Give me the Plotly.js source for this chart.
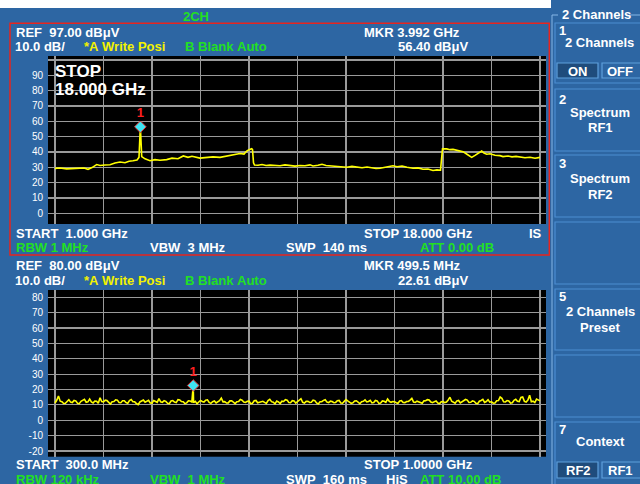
<!DOCTYPE html>
<html><head><meta charset="utf-8">
<script src="https://cdn.plot.ly/plotly-3.0.1.min.js"></script>
<style>html,body{margin:0;padding:0;background:#2d66a3;overflow:hidden}#chart{width:640px;height:484px}</style>
</head><body><div id="chart"></div>
<script>
// ---- Channel RF1 (1 GHz .. 18 GHz) ----
const rf1FreqGHz = [1.000,1.175,1.410,1.596,1.876,2.017,2.157,2.297,2.462,2.577,2.753,2.928,3.103,3.278,3.454,3.594,3.734,3.874,3.944,3.992,4.040,4.155,4.330,4.505,4.680,4.915,5.101,5.311,5.497,5.662,5.802,6.082,6.258,6.538,6.783,6.959,7.134,7.309,7.485,7.625,7.719,7.800,7.895,7.923,7.958,7.993,8.116,8.256,8.396,8.536,8.711,8.887,9.062,9.237,9.412,9.588,9.763,9.938,10.043,10.219,10.359,10.499,10.639,10.814,10.990,11.225,11.410,11.586,11.761,11.936,12.111,12.252,12.392,12.567,12.742,12.847,12.988,13.163,13.338,13.548,13.724,13.899,14.074,14.249,14.390,14.512,14.547,14.583,14.730,14.845,14.950,15.091,15.196,15.301,15.441,15.606,15.722,15.827,15.957,16.037,16.132,16.247,16.423,16.598,16.703,16.879,17.019,17.159,17.299,17.474,17.650,17.825,18.000];
const rf1LevelDbuv = [29.3,29.5,29.0,29.3,29.7,29.5,28.7,29.8,31.8,31.2,31.5,31.7,32.8,33.5,33.0,34.0,34.3,34.8,36.5,56.4,37.0,35.5,34.3,35.0,34.6,35.0,36.0,35.6,37.4,36.5,37.2,36.0,36.3,36.8,36.5,37.2,37.9,38.3,39.0,38.6,40.6,41.5,42.1,41.5,33.0,31.5,31.3,31.8,31.2,31.4,31.0,31.0,31.6,31.1,30.8,31.2,31.0,31.6,30.9,31.3,32.0,31.2,31.0,30.7,30.4,30.0,30.6,30.1,29.7,30.2,29.8,29.2,29.4,29.9,30.6,31.0,30.4,30.8,30.0,29.4,29.6,28.7,28.9,27.9,28.3,28.1,35.0,42.1,42.0,41.5,41.7,41.2,40.8,40.2,38.5,36.5,37.8,39.0,40.6,39.3,38.5,38.8,37.9,37.6,37.0,37.4,36.8,37.1,36.5,36.2,36.6,35.9,36.5];
const rf1MarkerGHz = [3.992];
const rf1MarkerDbuv = [56.40];
const rf1GridGHz = [1,2.7,4.4,6.1,7.8,9.5,11.2,12.9,14.6,16.3,18];
const rf1TickVals = [0,10,20,30,40,50,60,70,80,90,100];
const rf1TickText = ['0','10','20','30','40','50','60','70','80','90',''];

// ---- Channel RF2 (300 MHz .. 1 GHz) ----
const rf2FreqMHz = [
 300,302.5,305,307.5,310,312.5,315,317.5,320,322.5,325,327.5,330,332.5,335,337.5,340,342.5,345,347.5,
 350,352.5,355,357.5,360,362.5,365,367.5,370,372.5,375,377.5,380,382.5,385,387.5,390,392.5,395,397.5,
 400,402.5,405,407.5,410,412.5,415,417.5,420,422.5,425,427.5,430,432.5,435,437.5,440,442.5,445,447.5,
 450,452.5,455,457.5,460,462.5,465,467.5,470,472.5,475,477.5,480,482.5,485,487.5,490,492.5,495,497.5,
 499.5,
 500,502.5,505,507.5,510,512.5,515,517.5,520,522.5,525,527.5,530,532.5,535,537.5,540,542.5,545,547.5,
 550,552.5,555,557.5,560,562.5,565,567.5,570,572.5,575,577.5,580,582.5,585,587.5,590,592.5,595,597.5,
 600,602.5,605,607.5,610,612.5,615,617.5,620,622.5,625,627.5,630,632.5,635,637.5,640,642.5,645,647.5,
 650,652.5,655,657.5,660,662.5,665,667.5,670,672.5,675,677.5,680,682.5,685,687.5,690,692.5,695,697.5,
 700,702.5,705,707.5,710,712.5,715,717.5,720,722.5,725,727.5,730,732.5,735,737.5,740,742.5,745,747.5,
 750,752.5,755,757.5,760,762.5,765,767.5,770,772.5,775,777.5,780,782.5,785,787.5,790,792.5,795,797.5,
 800,802.5,805,807.5,810,812.5,815,817.5,820,822.5,825,827.5,830,832.5,835,837.5,840,842.5,845,847.5,
 850,852.5,855,857.5,860,862.5,865,867.5,870,872.5,875,877.5,880,882.5,885,887.5,890,892.5,895,897.5,
 900,902.5,905,907.5,910,912.5,915,917.5,920,922.5,925,927.5,930,932.5,935,937.5,940,942.5,945,947.5,
 950,952.5,955,957.5,960,962.5,965,967.5,970,972.5,975,977.5,980,982.5,985,987.5,990,992.5,995,997.5,
 1000];
const rf2LevelDbuv = [
 11.2,13.0,15.8,12.4,12.1,10.9,11.0,12.6,13.4,11.8,11.5,12.9,12.6,11.1,10.8,12.3,12.9,13.6,11.7,12.0,
 13.8,11.9,11.3,12.5,12.4,11.0,14.6,12.2,11.9,13.1,12.8,11.4,10.6,12.0,12.2,13.3,13.1,11.6,11.4,12.7,
 12.7,11.5,11.1,12.8,13.5,12.1,12.0,10.9,10.2,11.9,12.6,13.2,11.8,12.4,13.0,11.3,11.2,12.9,12.4,11.7,
 14.1,12.0,11.6,12.7,12.3,11.1,10.9,12.5,12.8,11.8,11.5,13.4,13.2,12.2,12.0,10.8,11.3,12.6,12.5,11.9,
 22.61,
 11.4,12.3,10.7,11.9,12.9,12.2,11.8,13.0,13.3,11.6,11.0,12.1,12.5,11.3,11.9,12.8,14.4,12.0,12.1,11.2,
 11.3,12.6,12.7,11.5,10.8,12.0,12.2,13.5,13.0,11.9,11.6,12.3,12.4,10.9,11.1,12.7,12.9,11.4,11.7,12.2,
 12.3,11.6,11.0,12.8,13.6,12.1,11.8,10.7,12.5,11.9,10.9,12.4,12.2,13.4,13.1,11.5,11.4,12.8,12.6,11.1,
 11.9,13.2,14.0,11.7,11.2,12.3,12.4,11.6,11.7,13.1,12.8,11.3,10.6,12.0,12.1,12.9,13.3,11.8,11.5,12.4,
 12.2,11.4,11.6,12.7,12.9,11.2,11.1,12.3,13.5,12.6,12.0,11.0,11.4,12.5,12.7,11.8,10.8,12.1,12.3,13.2,
 11.9,12.2,13.0,11.3,11.5,12.9,12.6,11.0,11.2,12.6,12.4,11.7,13.8,12.3,11.7,12.2,12.1,11.4,11.0,12.5,
 12.8,11.6,11.5,12.2,12.3,13.1,14.2,11.9,11.6,12.4,12.0,11.3,11.1,12.6,12.7,13.4,13.2,11.8,11.4,12.1,
 12.5,11.2,10.9,12.0,12.2,11.5,11.8,13.2,15.0,12.4,11.9,11.1,12.6,12.9,11.3,12.0,12.4,13.5,13.1,11.6,
 11.7,12.6,12.3,11.0,10.8,12.4,12.9,13.6,11.6,12.2,13.4,11.8,12.0,11.1,11.2,12.7,12.8,15.1,14.3,12.0,
 11.9,12.8,12.5,11.2,11.4,13.0,13.6,12.4,12.1,14.8,15.2,12.3,11.8,13.1,16.3,12.0,12.4,11.5,13.8,12.9,
 12.6];
const rf2MarkerMHz = [499.5];
const rf2MarkerDbuv = [22.61];
const rf2GridMHz = [300,370,440,510,580,650,720,790,860,930,1000];
const rf2TickVals = [-20,-10,0,10,20,30,40,50,60,70,80];
const rf2TickText = ['-20','-10','0','10','20','30','40','50','60','70','80'];

// ---- helpers (pixel -> paper) ----
const W = 640, H = 484;
const X = p => p / W;
const Y = p => 1 - p / H;
const NB = '\u00a0';
const WHITE = '#ffffff', GREEN = '#22e022', YELLOW = '#f2f200';
const FONT = 'Liberation Sans, Arial, sans-serif';

function txt(s, x, y, color, opts) {
  opts = opts || {};
  return {
    text: '<b>' + s.replace(/ /g, NB) + '</b>',
    xref: 'paper', yref: 'paper', x: X(x), y: Y(y),
    xanchor: opts.anchor || 'left', yanchor: 'middle',
    showarrow: false,
    font: {family: FONT, size: opts.size || 13, color: color}
  };
}

const traceStyle = {color: '#ffff00', width: 1.6};
const markerStyle = {symbol: 'diamond', size: 9, color: '#3ee4f2', line: {color: '#e03030', width: 1}};
const markerText = {family: FONT, size: 13, color: '#ff2020', weight: 'bold'};

const data = [
  {x: rf1FreqGHz, y: rf1LevelDbuv, xaxis: 'x', yaxis: 'y', mode: 'lines', line: traceStyle, hoverinfo: 'skip'},
  {x: rf1MarkerGHz, y: rf1MarkerDbuv, xaxis: 'x', yaxis: 'y', mode: 'markers+text', text: ['1'], textposition: 'top center',
   textfont: markerText, marker: markerStyle, cliponaxis: false},
  {x: rf2FreqMHz, y: rf2LevelDbuv, xaxis: 'x2', yaxis: 'y2', mode: 'lines', line: traceStyle, hoverinfo: 'skip'},
  {x: rf2MarkerMHz, y: rf2MarkerDbuv, xaxis: 'x2', yaxis: 'y2', mode: 'markers+text', text: ['1'], textposition: 'top center',
   textfont: markerText, marker: markerStyle, cliponaxis: false}
];

const gridCol = '#9a9a9a';
const xCommon = {showticklabels: false, ticks: '', showgrid: true, gridcolor: gridCol, gridwidth: 1.2, zeroline: false, showline: false, fixedrange: true};
const yCommon = {showgrid: true, gridcolor: gridCol, gridwidth: 1.2, zeroline: false, showline: false, ticks: '',
  tickfont: {family: FONT, size: 10, color: WHITE}, ticklabelstandoff: 4, fixedrange: true};

const rf1PxPerGHz = 485 / 17;
const rf2MHzPerPx = 700 / 485;

const layout = {
  width: W, height: H,
  margin: {l: 0, r: 0, t: 0, b: 0},
  paper_bgcolor: '#2d66a3', plot_bgcolor: '#000000',
  showlegend: false,
  xaxis: Object.assign({}, xCommon, {domain: [X(48), X(546)], anchor: 'y',
    range: [1 - 7 / rf1PxPerGHz, 18 + 6 / rf1PxPerGHz], tickmode: 'array', tickvals: rf1GridGHz}),
  yaxis: Object.assign({}, yCommon, {domain: [Y(224), Y(56)], anchor: 'x',
    range: [-6.98, 102.6], tickmode: 'array', tickvals: rf1TickVals, ticktext: rf1TickText}),
  xaxis2: Object.assign({}, xCommon, {domain: [X(48), X(546)], anchor: 'y2',
    range: [300 - 7 * rf2MHzPerPx, 1000 + 6 * rf2MHzPerPx], tickmode: 'array', tickvals: rf2GridMHz}),
  yaxis2: Object.assign({}, yCommon, {domain: [Y(456.7), Y(290)], anchor: 'x2',
    range: [-23.71, 84.75], tickmode: 'array', tickvals: rf2TickVals, ticktext: rf2TickText}),
  shapes: [],
  annotations: []
};

const S = layout.shapes, A = layout.annotations;
function rect(x0, y0, x1, y1, line, fill, lw) {
  S.push({type: 'rect', xref: 'paper', yref: 'paper', x0: X(x0), x1: X(x1), y0: Y(y1), y1: Y(y0),
    line: {color: line || 'rgba(0,0,0,0)', width: lw === undefined ? 1 : lw}, fillcolor: fill || 'rgba(0,0,0,0)', layer: 'above'});
}
function seg(x0, y0, x1, y1, color, lw) {
  S.push({type: 'line', xref: 'paper', yref: 'paper', x0: X(x0), x1: X(x1), y0: Y(y0), y1: Y(y1),
    line: {color: color, width: lw || 1}, layer: 'above'});
}

// white strip at the very top
rect(0, 0, 551, 8, null, '#ffffff', 0);
// red frame of the active channel
rect(10, 23.3, 549.3, 255, '#e8251e', null, 1.5);

// right soft-key panel
const frameCol = '#86b6e6', boxCol = '#4c8dd2', btnCol = '#5e9fdc';
seg(552, 15, 552, 484, frameCol, 1);
seg(552, 15, 558, 15, frameCol, 1);
seg(629, 15, 640, 15, frameCol, 1);
[[23, 83], [89, 151], [155, 217], [222, 284], [289, 350], [355, 417], [422, 486]].forEach(b => rect(555, b[0], 641, b[1], boxCol, null, 1.2));
rect(557, 63, 598, 78, btnCol, '#1f4c7c', 1.2);
rect(602, 63, 641, 78, btnCol, null, 1.2);
rect(557, 462, 598, 478, btnCol, '#1f4c7c', 1.2);
rect(602, 462, 641, 478, btnCol, null, 1.2);

// top channel texts
A.push(txt('2CH', 195.7, 16, GREEN, {anchor: 'center'}));
A.push(txt('REF  97.00 dBμV', 14, 32.5, WHITE));
A.push(txt('MKR 3.992 GHz', 362, 32.5, WHITE));
A.push(txt('10.0 dB/', 13, 47, WHITE));
A.push(txt('*A Write Posi', 82, 47, YELLOW));
A.push(txt('B Blank Auto', 183, 47, GREEN));
A.push(txt('56.40 dBμV', 396, 47, WHITE));
A.push(txt('STOP', 53, 71, WHITE, {size: 17}));
A.push(txt('18.000 GHz', 53, 90, WHITE, {size: 17}));
A.push(txt('START  1.000 GHz', 14, 233, WHITE));
A.push(txt('STOP 18.000 GHz', 362, 233, WHITE));
A.push(txt('IS', 527, 233, WHITE));
A.push(txt('RBW 1 MHz', 14, 248, GREEN));
A.push(txt('VBW  3 MHz', 148, 248, WHITE));
A.push(txt('SWP  140 ms', 284, 248, WHITE));
A.push(txt('ATT 0.00 dB', 418, 248, GREEN));
// bottom channel texts
A.push(txt('REF  80.00 dBμV', 14, 265, WHITE));
A.push(txt('MKR 499.5 MHz', 362, 265, WHITE));
A.push(txt('10.0 dB/', 13, 280, WHITE));
A.push(txt('*A Write Posi', 82, 280, YELLOW));
A.push(txt('B Blank Auto', 183, 280, GREEN));
A.push(txt('22.61 dBμV', 396, 280, WHITE));
A.push(txt('START  300.0 MHz', 14, 464.5, WHITE));
A.push(txt('STOP 1.0000 GHz', 362, 464.5, WHITE));
A.push(txt('RBW 120 kHz', 14, 479, GREEN));
A.push(txt('VBW  1 MHz', 148, 479, GREEN));
A.push(txt('SWP  160 ms', 284, 479, WHITE));
A.push(txt('HiS', 384, 479, WHITE));
A.push(txt('ATT 10.00 dB', 418, 479, GREEN));
// soft keys
A.push(txt('2 Channels', 560, 15, WHITE));
A.push(txt('1', 557, 30.5, WHITE));
A.push(txt('2 Channels', 599, 42.5, WHITE, {anchor: 'center'}));
A.push(txt('ON', 578, 71, WHITE, {anchor: 'center'}));
A.push(txt('OFF', 620, 71, WHITE, {anchor: 'center'}));
A.push(txt('2', 557, 99.5, WHITE));
A.push(txt('Spectrum', 600, 112.5, WHITE, {anchor: 'center'}));
A.push(txt('RF1', 600, 127.5, WHITE, {anchor: 'center'}));
A.push(txt('3', 557, 163.5, WHITE));
A.push(txt('Spectrum', 600, 179, WHITE, {anchor: 'center'}));
A.push(txt('RF2', 600, 194, WHITE, {anchor: 'center'}));
A.push(txt('5', 557, 296.5, WHITE));
A.push(txt('2 Channels', 600, 311.5, WHITE, {anchor: 'center'}));
A.push(txt('Preset', 600, 327, WHITE, {anchor: 'center'}));
A.push(txt('7', 557, 429, WHITE));
A.push(txt('Context', 600, 441.5, WHITE, {anchor: 'center'}));
A.push(txt('RF2', 578, 470, WHITE, {anchor: 'center'}));
A.push(txt('RF1', 620, 470, WHITE, {anchor: 'center'}));

Plotly.newPlot('chart', data, layout, {staticPlot: true, displayModeBar: false});
</script>
</body></html>
